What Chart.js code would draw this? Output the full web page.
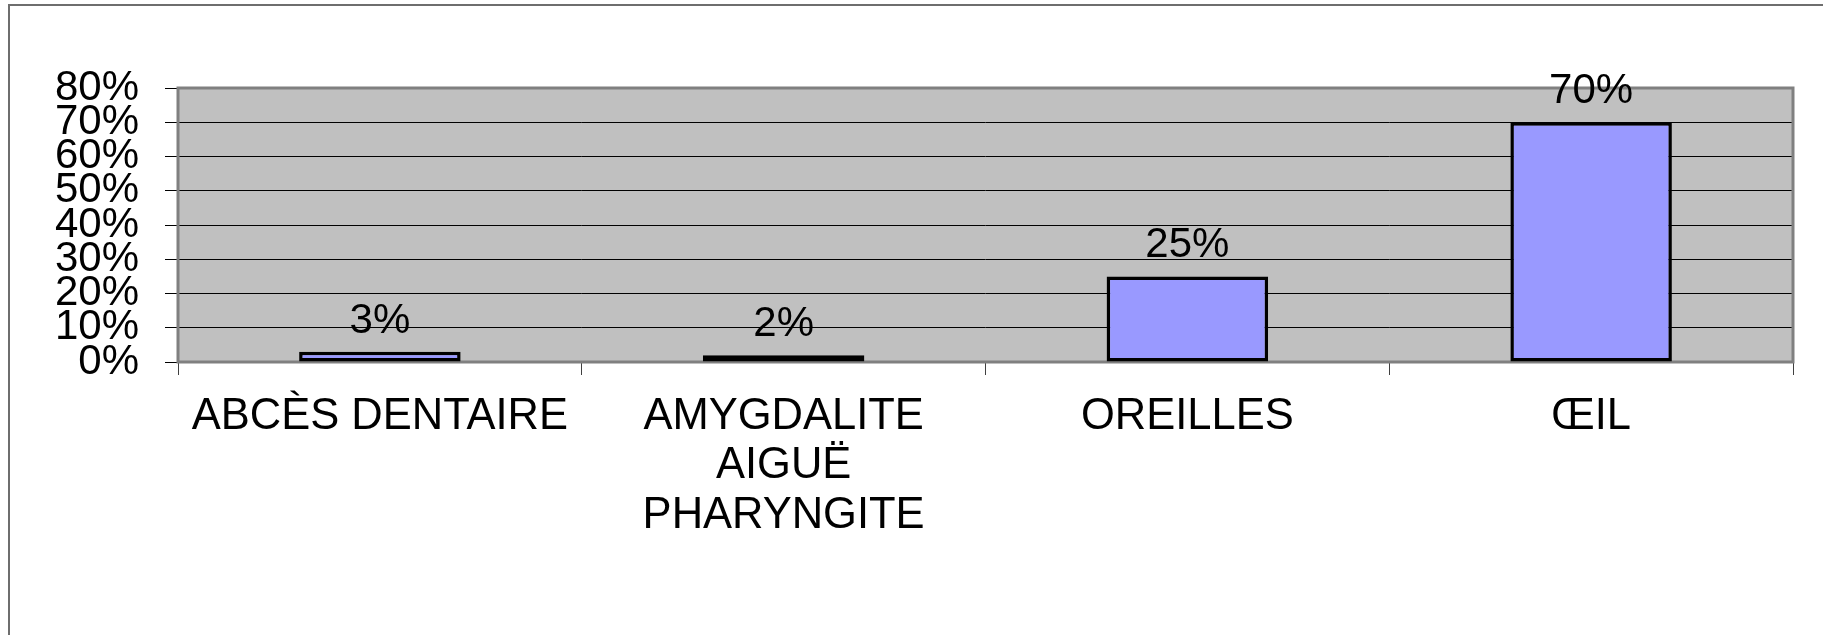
<!DOCTYPE html>
<html>
<head>
<meta charset="utf-8">
<script src="https://cdn.jsdelivr.net/npm/chart.js@4/dist/chart.umd.min.js"></script>
<style>
   html, body { margin: 0; padding: 0; background: #fff; }
   #wrap { width: 1823px; height: 635px; }
</style>
</head>
<body>
<div id="wrap"><canvas id="myChart" width="1823" height="635"></canvas></div>
<script>
const categories = [
   'ABCÈS DENTAIRE',
   ['AMYGDALITE', 'AIGUË', 'PHARYNGITE'],
   'OREILLES',
   'ŒIL'
];
const values = [3, 2, 25, 70];
const yTicks = [0, 10, 20, 30, 40, 50, 60, 70, 80];

const FONT = '"Liberation Sans", Arial, sans-serif';

// fond gris de la zone de tracé + cadre extérieur
const plotBackground = {
   id: 'plotBackground',
   beforeDraw(chart) {
      const { ctx, chartArea: a } = chart;
      ctx.save();
      ctx.fillStyle = '#C0C0C0';
      ctx.fillRect(a.left, a.top, a.right - a.left, a.bottom - a.top);
      // cadre extérieur (gauche + haut)
      ctx.strokeStyle = '#6e6e6e';
      ctx.lineWidth = 2;
      ctx.beginPath();
      ctx.moveTo(9, chart.height);
      ctx.lineTo(9, 5);
      ctx.lineTo(chart.width, 5);
      ctx.stroke();
      ctx.restore();
   },
   beforeDatasetsDraw(chart) {
      const { ctx, chartArea: a } = chart;
      ctx.save();
      ctx.strokeStyle = '#808080';
      ctx.lineWidth = 3;
      ctx.strokeRect(a.left, a.top, a.right - a.left, a.bottom - a.top);
      ctx.restore();
   }
};

// étiquettes de valeurs au-dessus des barres
const valueLabels = {
   id: 'valueLabels',
   afterDatasetsDraw(chart) {
      const { ctx } = chart;
      const meta = chart.getDatasetMeta(0);
      ctx.save();
      ctx.font = '42px ' + FONT;
      ctx.fillStyle = '#000';
      ctx.textAlign = 'center';
      ctx.textBaseline = 'alphabetic';
      meta.data.forEach((bar, i) => {
         ctx.fillText(values[i] + '%', bar.x, bar.y - 19);
      });
      ctx.restore();
   }
};

Chart.register(plotBackground, valueLabels);

new Chart(document.getElementById('myChart'), {
   type: 'bar',
   data: {
      labels: categories,
      datasets: [{
         data: values,
         backgroundColor: '#9999FF',
         borderColor: '#000',
         borderWidth: 3.5,
         borderSkipped: false,
         categoryPercentage: 0.4,
         barPercentage: 1
      }]
   },
   options: {
      responsive: false,
      animation: false,
      events: [],
      layout: {
         padding: { top: 88, right: 30, bottom: 0, left: 0 }
      },
      plugins: {
         legend: { display: false },
         tooltip: { enabled: false }
      },
      scales: {
         x: {
            border: { display: false },
            grid: {
               offset: true,
               drawOnChartArea: false,
               tickLength: 13,
               tickColor: '#404040',
               lineWidth: 1
            },
            ticks: {
               color: '#000',
               padding: 17,
               maxRotation: 0,
               autoSkip: false,
               font: { family: FONT, size: 43.5, lineHeight: 1.14 }
            },
            afterFit(scale) { scale.height = 273; }
         },
         y: {
            min: 0,
            max: 80,
            border: { display: false },
            afterBuildTicks(scale) {
               scale.ticks = yTicks.map(v => ({ value: v }));
            },
            grid: {
               color: ctx => (ctx.tick && (ctx.tick.value === 0 || ctx.tick.value === 80)) ? 'rgba(0,0,0,0)' : '#000',
               tickColor: '#000',
               tickLength: 13,
               lineWidth: 1
            },
            ticks: {
               color: '#000',
               padding: 26,
               autoSkip: false,
               callback: v => v + '%',
               font: { family: FONT, size: 42 }
            },
            afterFit(scale) { scale.width = 178; }
         }
      }
   }
});
</script>
</body>
</html>
